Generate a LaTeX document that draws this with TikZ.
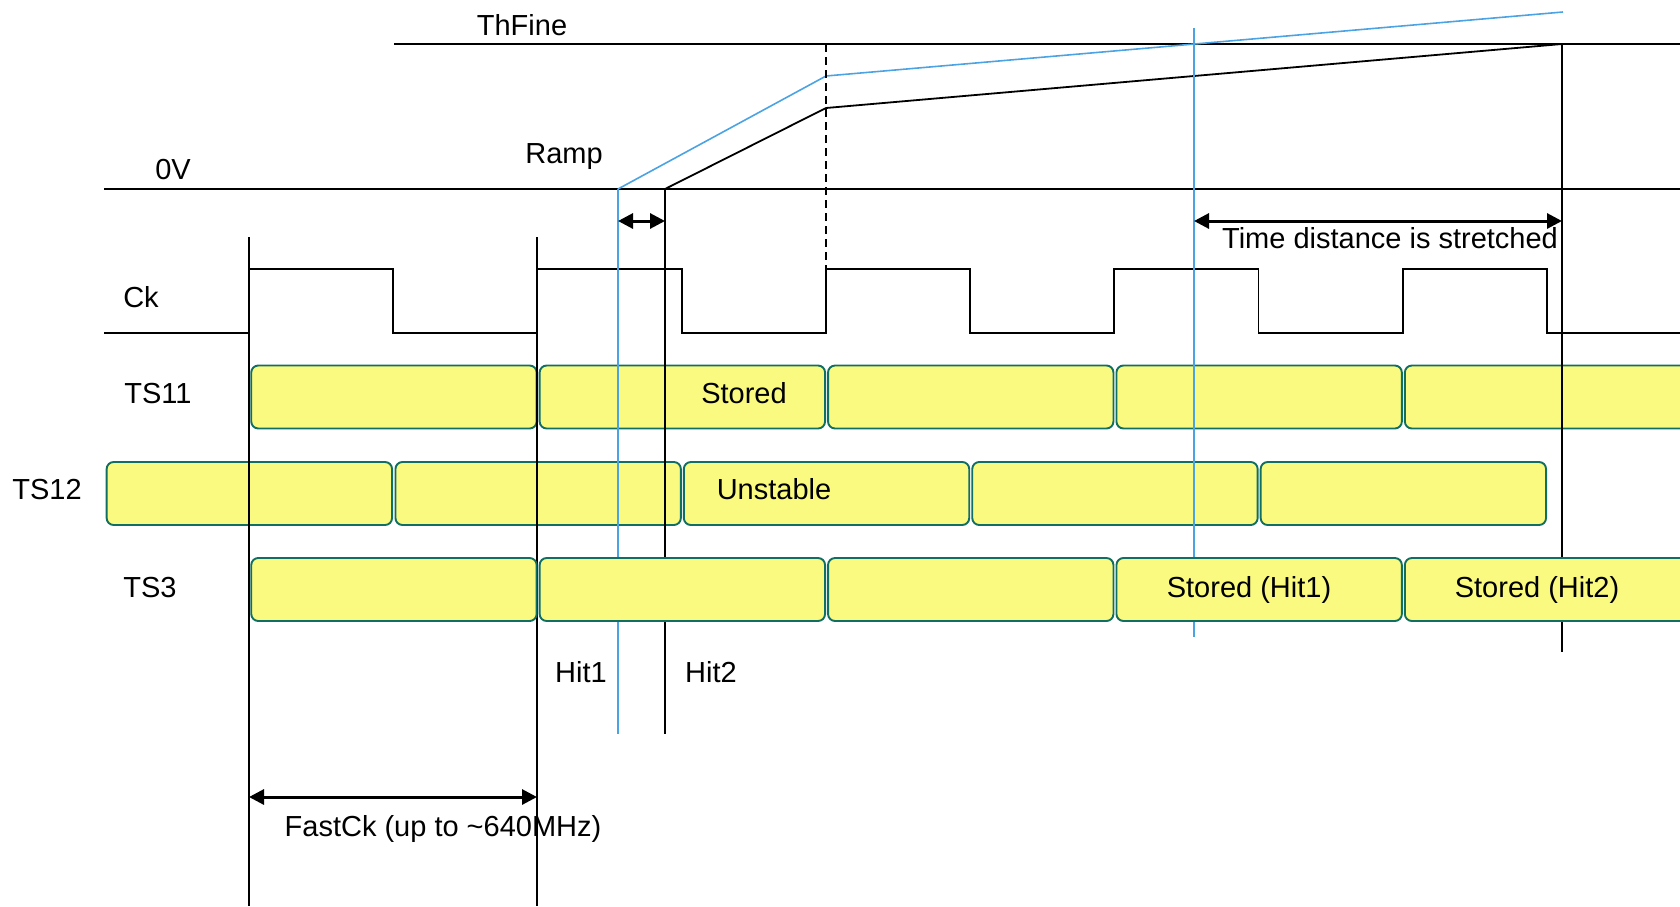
\documentclass[tikz,border=0pt]{standalone}
\usepackage{fontspec}
\setmainfont{Liberation Sans}
\usetikzlibrary{arrows.meta}
\definecolor{hitblue}{RGB}{75,163,227}
\definecolor{boxline}{RGB}{16,110,98}
\definecolor{boxfill}{RGB}{250,250,128}
\begin{document}
\begin{tikzpicture}[x=1pt,y=-1pt,
  lbl/.style={font=\fontsize{29}{33}\selectfont, inner sep=0pt, anchor=base},
  sig/.style={line width=1.8pt, black},
  vline/.style={line width=1.6pt, black},
  bline/.style={line width=1.5pt, hitblue},
  tsbox/.style={draw=boxline, fill=boxfill, line width=1.9pt, rounded corners=7pt,
    minimum width=285.4pt, minimum height=63pt, inner sep=0pt, anchor=west},
  dimarrow/.style={line width=3pt, {Triangle[length=15pt,width=15pt]}-{Triangle[length=15pt,width=15pt]}},
]
\clip (0,0) rectangle (1680,906);
% --- coordinates
\coordinate (zL) at (104,189);   \coordinate (zR) at (1680,189);
\coordinate (tL) at (394,44);    \coordinate (tR) at (1680,44);
\coordinate (bS) at (618,189);   \coordinate (bK) at (826,76);  \coordinate (bE) at (1563,12);
\coordinate (kS) at (665,189);   \coordinate (kK) at (826,108); \coordinate (kE) at (1562,44);
\coordinate (dT) at (826,44);    \coordinate (dB) at (826,269);
\coordinate (vAt) at (249,237);  \coordinate (vAb) at (249,906);
\coordinate (vBt) at (537,237);  \coordinate (vBb) at (537,906);
\coordinate (h1t) at (618,189);  \coordinate (h1b) at (618,734);
\coordinate (h2t) at (665,189);  \coordinate (h2b) at (665,734);
\coordinate (sBt) at (1194,28);  \coordinate (sBb) at (1194,637);
\coordinate (sKt) at (1562,44);  \coordinate (sKb) at (1562,652);
% --- levels and ramps
\draw[sig] (zL) -- (zR);
\draw[sig] (tL) -- (tR);
\draw[line width=1.6pt, hitblue] (bS) -- (bK) -- (bE);
\draw[line width=1.8pt, black] (kS) -- (kK) -- (kE);
\draw[line width=1.5pt, dash pattern=on 8pt off 5pt] (dT) -- (dB);
% --- clock
\draw[sig] (104,333) -- (249,333) -- (249,269) -- (393,269) -- (393,333)
  -- (537,333) -- (537,269) -- (681.6,269) -- (681.6,333)
  -- (826,333) -- (826,269) -- (970,269) -- (970,333)
  -- (1114.2,333) -- (1114.2,269) -- (1258.4,269) -- (1258.4,333)
  -- (1402.6,333) -- (1402.6,269) -- (1546.8,269) -- (1546.8,333) -- (1680,333);
% --- TS11 and TS12 boxes
\foreach \x [count=\i] in {249,537.4,825.8,1114.2,1402.6}
  \node[tsbox] (a\i) at (\x+1.3,397) {};
\foreach \x [count=\i] in {104.4,393.2,681.6,970,1258.4}
  \node[tsbox] (b\i) at (\x+1.3,493.5) {};
% --- vertical marker lines
\draw[vline] (vAt) -- (vAb);
\draw[vline] (vBt) -- (vBb);
\draw[bline] (h1t) -- (h1b);
\draw[vline] (h2t) -- (h2b);
\draw[bline] (sBt) -- (sBb);
\draw[vline] (sKt) -- (sKb);
% --- TS3 boxes
\foreach \x [count=\i] in {249,537.4,825.8,1114.2,1402.6}
  \node[tsbox] (c\i) at (\x+1.3,589.5) {};
% --- labels
\node[lbl] (lThFine) at (522,35) {ThFine};
\node[lbl] (l0V) at (173,179) {0V};
\node[lbl] (lRamp) at (564,163) {Ramp};
\node[lbl] (lCk) at (141,307) {Ck};
\node[lbl] (lTS11) at (158,403) {TS11};
\node[lbl] (lTS12) at (47,499) {TS12};
\node[lbl] (lTS3) at (150,597) {TS3};
\node[lbl] (lStored) at (744,403) {Stored};
\node[lbl] (lUnst) at (774,499) {Unstable};
\node[lbl] (lSH1) at (1249,597) {Stored (Hit1)};
\node[lbl] (lSH2) at (1537,597) {Stored (Hit2)};
\node[lbl] (lHit1) at (581,682) {Hit1};
\node[lbl] (lHit2) at (711,682) {Hit2};
\node[lbl] (lTime) at (1390,248) {Time distance is stretched};
\node[lbl] (lFast) at (443,836) {FastCk (up to \textasciitilde640MHz)};
% --- dimension arrows
\coordinate (dA1) at (618,221); \coordinate (dA2) at (665,221);
\coordinate (dB1) at (1194,221); \coordinate (dB2) at (1562,221);
\coordinate (dC1) at (249,797); \coordinate (dC2) at (537,797);
\draw[dimarrow] (dA1) -- (dA2);
\draw[dimarrow] (dB1) -- (dB2);
\draw[dimarrow] (dC1) -- (dC2);
\end{tikzpicture}
\end{document}
